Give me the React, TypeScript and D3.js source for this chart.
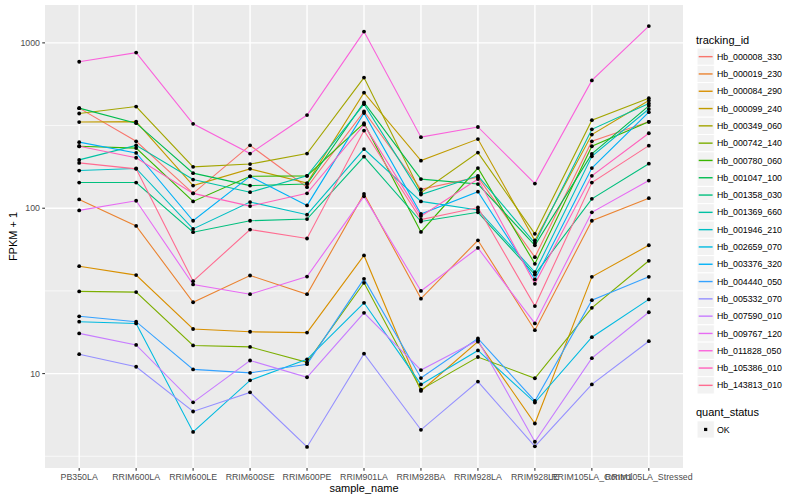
import React, { useEffect, useRef } from 'react';
import * as d3 from 'd3';

const samples = [
  'PB350LA', 'RRIM600LA', 'RRIM600LE', 'RRIM600SE', 'RRIM600PE', 'RRIM901LA',
  'RRIM928BA', 'RRIM928LA', 'RRIM928LE', 'RRIM105LA_Control', 'RRIM105LA_Stressed',
];

const trackingIds = [
  'Hb_000008_330', 'Hb_000019_230', 'Hb_000084_290', 'Hb_000099_240', 'Hb_000349_060',
  'Hb_000742_140', 'Hb_000780_060', 'Hb_001047_100', 'Hb_001358_030', 'Hb_001369_660',
  'Hb_001946_210', 'Hb_002659_070', 'Hb_003376_320', 'Hb_004440_050', 'Hb_005332_070',
  'Hb_007590_010', 'Hb_009767_120', 'Hb_011828_050', 'Hb_105386_010', 'Hb_143813_010',
];

// FPKM + 1, one value per sample (same order as samples)
const hb000008_330 = [403, 254, 123, 240, 134, 385, 130, 154, 50.6, 254, 333];
const hb000019_230 = [113, 78.2, 27.0, 39.2, 30.2, 122, 28.4, 64, 18.3, 84, 115];
const hb000084_290 = [44.6, 39.4, 18.6, 17.9, 17.7, 51.8, 7.85, 15.6, 4.99, 38.5, 59.7];
const hb000099_240 = [332, 334, 137, 173, 142, 500, 194, 262, 63.8, 279, 448];
const hb000349_060 = [374, 412, 178, 185, 214, 617, 124, 217, 70, 341, 463];
const hb000742_140 = [31.4, 31.1, 14.8, 14.5, 11.7, 35.4, 8.0, 12.6, 9.37, 25.0, 48.1];
const hb000780_060 = [237, 231, 110, 156, 157, 327, 71.9, 175, 46.1, 237, 333];
const hb001047_100 = [403, 327, 163, 137, 140, 436, 150, 140, 59.7, 213, 416];
const hb001358_030 = [143, 143, 71.6, 84, 86, 205, 83.1, 94.5, 39.7, 114, 186];
const hb001369_660 = [196, 240, 149, 125, 157, 426, 121, 157, 61.6, 300, 430];
const hb001946_210 = [169, 174, 75, 109, 91.4, 228, 110, 97.7, 41.0, 206, 398];
const hb002659_070 = [20.6, 20.1, 4.44, 9.1, 12.2, 26.8, 8.6, 13.8, 6.68, 16.6, 28.1];
const hb003376_320 = [251, 216, 84, 156, 104, 376, 92.3, 126, 37.1, 175, 381];
const hb004440_050 = [22.2, 20.6, 10.6, 10.1, 11.4, 37.4, 9.4, 16.3, 6.83, 27.8, 38.5];
const hb005332_070 = [13.1, 11.0, 5.9, 7.7, 3.6, 13.2, 4.57, 8.95, 3.63, 8.6, 15.7];
const hb007590_010 = [17.5, 14.9, 6.7, 12.0, 9.5, 23.3, 10.5, 15.9, 3.87, 12.4, 23.5];
const hb009767_120 = [97, 111, 34.6, 30.2, 38.6, 118, 31.6, 57.5, 20.1, 94.5, 147];
const hb011828_050 = [769, 873, 324, 214, 366, 1170, 269, 310, 141, 593, 1264];
const hb105386_010 = [237, 202, 123, 103, 123, 320, 89.6, 150, 34.9, 157, 284];
const hb143813_010 = [188, 173, 36.2, 74.3, 65.6, 295, 85.3, 101, 25.6, 143, 239];

const seriesValues = [
  hb000008_330, hb000019_230, hb000084_290, hb000099_240, hb000349_060,
  hb000742_140, hb000780_060, hb001047_100, hb001358_030, hb001369_660,
  hb001946_210, hb002659_070, hb003376_320, hb004440_050, hb005332_070,
  hb007590_010, hb009767_120, hb011828_050, hb105386_010, hb143813_010,
];

const quantStatus = ['OK'];
const yTicks = [10, 100, 1000];

// ggplot default hue palette, 20 levels
const hueColors = [
  '#F8766D', '#EA8331', '#D89000', '#C09B00', '#A3A500', '#7CAE00', '#39B600',
  '#00BB4E', '#00BF7D', '#00C1A3', '#00BFC4', '#00BAE0', '#00B0F6', '#35A2FF',
  '#9590FF', '#C77CFF', '#E76BF3', '#FA62DB', '#FF62BC', '#FF6C91',
];

const FONT = '"Liberation Sans", Arial, Helvetica, sans-serif';

export default function App() {
  const svgRef = useRef<SVGSVGElement>(null);

  useEffect(() => {
    if (!svgRef.current) return;
    const svg = d3.select(svgRef.current);
    svg.selectAll('*').remove();

    const width = 800;
    const height = 500;
    const panel = { left: 45, right: 683, top: 5, bottom: 468 };

    svg.append('rect').attr('width', width).attr('height', height).attr('fill', 'white');

    // log scale with ggplot's 5% expansion in transformed space
    const all = seriesValues.flat();
    const lo = Math.log10(d3.min(all) as number);
    const hi = Math.log10(d3.max(all) as number);
    const pad = (hi - lo) * 0.05;
    const y = d3.scaleLog()
      .domain([10 ** (lo - pad), 10 ** (hi + pad)])
      .range([panel.bottom, panel.top]);

    const x = d3.scalePoint<string>()
      .domain(samples)
      .range([panel.left, panel.right])
      .padding(0.6);

    // panel background
    svg.append('rect')
      .attr('x', panel.left).attr('y', panel.top)
      .attr('width', panel.right - panel.left)
      .attr('height', panel.bottom - panel.top)
      .attr('fill', '#EBEBEB');

    const grid = svg.append('g');
    const [dMin, dMax] = y.domain();
    const minor = [1, ...yTicks].map(v => v * Math.sqrt(10)).filter(v => v > dMin && v < dMax);
    grid.selectAll('.minor').data(minor).enter().append('line')
      .attr('x1', panel.left).attr('x2', panel.right)
      .attr('y1', d => y(d)).attr('y2', d => y(d))
      .attr('stroke', 'white').attr('stroke-width', 0.7);
    grid.selectAll('.major').data(yTicks).enter().append('line')
      .attr('x1', panel.left).attr('x2', panel.right)
      .attr('y1', d => y(d)).attr('y2', d => y(d))
      .attr('stroke', 'white').attr('stroke-width', 1.4);
    grid.selectAll('.vmajor').data(samples).enter().append('line')
      .attr('x1', d => x(d)!).attr('x2', d => x(d)!)
      .attr('y1', panel.top).attr('y2', panel.bottom)
      .attr('stroke', 'white').attr('stroke-width', 1.4);

    // lines
    const line = d3.line<number>()
      .x((_, i) => x(samples[i])!)
      .y(d => y(d));

    svg.append('g').selectAll('path').data(seriesValues).enter().append('path')
      .attr('d', d => line(d))
      .attr('fill', 'none')
      .attr('stroke', (_, i) => hueColors[i])
      .attr('stroke-width', 1.1);

    // points
    const pts = seriesValues.flatMap(vals => vals.map((v, i) => ({ s: samples[i], v })));
    svg.append('g').selectAll('circle').data(pts).enter().append('circle')
      .attr('cx', d => x(d.s)!)
      .attr('cy', d => y(d.v))
      .attr('r', 1.9)
      .attr('fill', 'black');

    // y axis
    const yAxis = svg.append('g');
    yAxis.selectAll('line').data(yTicks).enter().append('line')
      .attr('x1', panel.left - 2.75).attr('x2', panel.left)
      .attr('y1', d => y(d)).attr('y2', d => y(d))
      .attr('stroke', '#333333').attr('stroke-width', 1.07);
    yAxis.selectAll('text').data(yTicks).enter().append('text')
      .attr('x', panel.left - 5).attr('y', d => y(d) + 3.1)
      .attr('text-anchor', 'end')
      .attr('font-family', FONT).attr('font-size', 8.8).attr('fill', '#4D4D4D')
      .text(d => String(d));

    // x axis
    const xAxis = svg.append('g');
    xAxis.selectAll('line').data(samples).enter().append('line')
      .attr('x1', d => x(d)!).attr('x2', d => x(d)!)
      .attr('y1', panel.bottom).attr('y2', panel.bottom + 2.75)
      .attr('stroke', '#333333').attr('stroke-width', 1.07);
    xAxis.selectAll('text').data(samples).enter().append('text')
      .attr('x', d => x(d)!).attr('y', panel.bottom + 11.6)
      .attr('text-anchor', 'middle')
      .attr('font-family', FONT).attr('font-size', 8.8).attr('fill', '#4D4D4D')
      .text(d => d);

    // axis titles
    svg.append('text')
      .attr('x', (panel.left + panel.right) / 2).attr('y', 492)
      .attr('text-anchor', 'middle')
      .attr('font-family', FONT).attr('font-size', 11).attr('fill', 'black')
      .text('sample_name');
    svg.append('text')
      .attr('transform', `translate(17.3, ${(panel.top + panel.bottom) / 2}) rotate(-90)`)
      .attr('text-anchor', 'middle')
      .attr('font-family', FONT).attr('font-size', 11).attr('fill', 'black')
      .text('FPKM + 1');

    // legend: tracking_id
    const legX = 697;
    const keySize = 17.3;
    const leg = svg.append('g');
    leg.append('text')
      .attr('x', legX - 1).attr('y', 44)
      .attr('font-family', FONT).attr('font-size', 11).attr('fill', 'black')
      .text('tracking_id');
    const firstKey = 48;
    const item = leg.selectAll('.item').data(trackingIds).enter().append('g')
      .attr('transform', (_, i) => `translate(${legX}, ${firstKey + i * keySize})`);
    item.append('rect')
      .attr('width', keySize).attr('height', keySize)
      .attr('fill', '#F2F2F2').attr('stroke', 'white').attr('stroke-width', 1);
    item.append('line')
      .attr('x1', 1.7).attr('x2', keySize - 1.7)
      .attr('y1', keySize / 2).attr('y2', keySize / 2)
      .attr('stroke', (_, i) => hueColors[i]).attr('stroke-width', 1.4);
    item.append('text')
      .attr('x', keySize + 2.6).attr('y', keySize / 2 + 3.1)
      .attr('font-family', FONT).attr('font-size', 8.8).attr('fill', 'black')
      .text(d => d);

    // legend: quant_status
    const qTop = 403.5;
    leg.append('text')
      .attr('x', legX - 1).attr('y', 415.5)
      .attr('font-family', FONT).attr('font-size', 11).attr('fill', 'black')
      .text('quant_status');
    const q = leg.selectAll('.qitem').data(quantStatus).enter().append('g')
      .attr('transform', (_, i) => `translate(${legX}, ${qTop + 17.3 + i * keySize})`);
    q.append('rect')
      .attr('width', keySize).attr('height', keySize)
      .attr('fill', '#F2F2F2').attr('stroke', 'white').attr('stroke-width', 1);
    q.append('rect')
      .attr('x', keySize / 2 - 1.6).attr('y', keySize / 2 - 1.6)
      .attr('width', 3.2).attr('height', 3.2)
      .attr('fill', 'black');
    q.append('text')
      .attr('x', keySize + 2.6).attr('y', keySize / 2 + 3.1)
      .attr('font-family', FONT).attr('font-size', 8.8).attr('fill', 'black')
      .text(d => d);
  }, []);

  return (
    <svg
      ref={svgRef}
      width={800}
      height={500}
      style={{ position: 'absolute', left: 0, top: 0, display: 'block' }}
    />
  );
}
